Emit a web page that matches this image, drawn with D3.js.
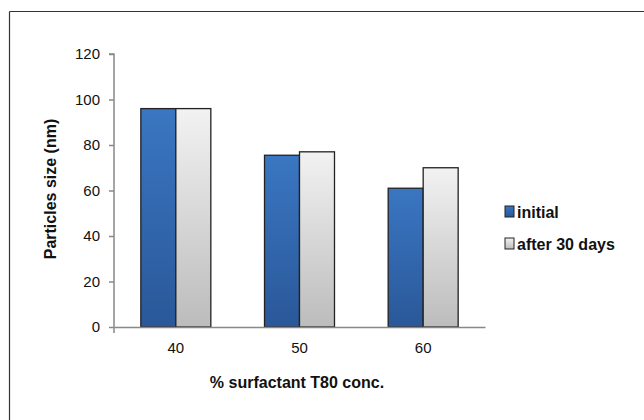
<!DOCTYPE html>
<html><head><meta charset="utf-8">
<script src="https://cdn.jsdelivr.net/npm/d3@7"></script>
<style>body{margin:0;background:#fff}svg{display:block}</style>
</head><body><svg id="c" width="644" height="420"></svg>
<script>
const categories = ["40","50","60"];
const seriesNames = ["initial","after 30 days"];
const initialValues = [96, 75.5, 61];
const after30Values = [96, 77, 70];
const yTicks = [0,20,40,60,80,100,120];

const svg = d3.select("#c");
const defs = svg.append("defs");
const gb = defs.append("linearGradient").attr("id","gBlue").attr("x1",0).attr("y1",0).attr("x2",0).attr("y2",1);
gb.append("stop").attr("offset","0%").attr("stop-color","#3a76c2");
gb.append("stop").attr("offset","100%").attr("stop-color","#2a5899");
const gg = defs.append("linearGradient").attr("id","gGray").attr("x1",0).attr("y1",0).attr("x2",0).attr("y2",1);
gg.append("stop").attr("offset","0%").attr("stop-color","#f2f2f2");
gg.append("stop").attr("offset","100%").attr("stop-color","#bcbcbc");
const fills = ["url(#gBlue)","url(#gGray)"];
const FONT = "Liberation Sans, Arial, sans-serif";

// frame
svg.append("line").attr("x1",9.5).attr("x2",644).attr("y1",11.5).attr("y2",11.5).attr("stroke","#333").attr("stroke-width",1.2);
svg.append("line").attr("x1",9.5).attr("x2",9.5).attr("y1",11.5).attr("y2",420).attr("stroke","#333").attr("stroke-width",1.2);

const x0 = 114, x1 = 485, yB = 327, yT = 54;
const x = d3.scaleBand().domain(categories).range([x0,x1]).paddingInner(0.434).paddingOuter(0.217);
const xs = d3.scaleBand().domain(seriesNames).range([0,x.bandwidth()]);
const y = d3.scaleLinear().domain([0,120]).range([yB,yT]);

// axes
const ya = svg.append("g").attr("transform",`translate(${x0},0)`)
  .call(d3.axisLeft(y).tickValues(yTicks).tickSize(5).tickPadding(9));
ya.select(".domain").attr("stroke","#888").attr("stroke-width",1.5).attr("d",`M-5,${yT}H0V${yB+6}`);
ya.selectAll(".tick line").attr("stroke","#888").attr("stroke-width",1.5);
ya.selectAll("text").attr("font-family",FONT).attr("font-size",15).attr("fill","#111");

const data = categories.map((c,i)=>({c, v:[initialValues[i], after30Values[i]]}));
const g = svg.append("g");
data.forEach(d=>{
  seriesNames.forEach((s,j)=>{
    g.append("rect")
      .attr("x", x(d.c)+xs(s)).attr("y", y(d.v[j]))
      .attr("width", xs.bandwidth()).attr("height", yB - y(d.v[j]))
      .attr("fill", fills[j]).attr("stroke","#222").attr("stroke-width",1.3);
  });
});

const xa = svg.append("g").attr("transform",`translate(0,${yB})`)
  .call(d3.axisBottom(x).tickSize(0).tickPadding(15));
xa.select(".domain").attr("stroke","#888").attr("stroke-width",1.5);
xa.selectAll("text").attr("font-family",FONT).attr("font-size",15).attr("fill","#111");

// titles
svg.append("text").attr("x",297).attr("y",388).attr("text-anchor","middle")
  .attr("font-family",FONT).attr("font-weight","bold").attr("font-size",16).attr("fill","#111")
  .text("% surfactant T80 conc.");
svg.append("text").attr("transform",`translate(56,189) rotate(-90)`).attr("text-anchor","middle")
  .attr("font-family",FONT).attr("font-weight","bold").attr("font-size",16).attr("fill","#111")
  .text("Particles size (nm)");

// legend
const lg = svg.append("g");
seriesNames.forEach((s,j)=>{
  const ly = 212 + j*32;
  lg.append("rect").attr("x",505).attr("y",ly-6).attr("width",9).attr("height",11)
    .attr("fill",fills[j]).attr("stroke","#222").attr("stroke-width",1);
  lg.append("text").attr("x",517).attr("y",ly+6)
    .attr("font-family",FONT).attr("font-weight","bold").attr("font-size",16).attr("fill","#111")
    .text(s);
});
</script></body></html>
